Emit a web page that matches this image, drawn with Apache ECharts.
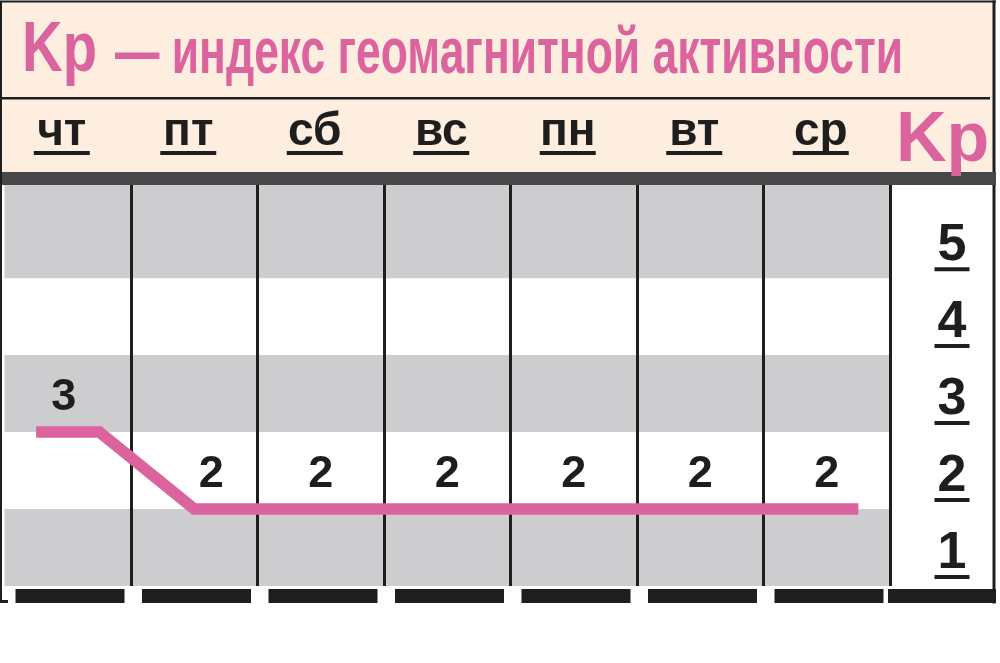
<!DOCTYPE html>
<html><head><meta charset="utf-8">
<script src="https://cdn.jsdelivr.net/npm/echarts@6/dist/echarts.min.js"></script>
<style>html,body{margin:0;padding:0;background:#fff}#c{width:1000px;height:663px}</style>
</head><body><div id="c"></div>
<script>
// ---- data ----
const days = ['чт', 'пт', 'сб', 'вс', 'пн', 'вт', 'ср'];
const kp = [3, 2, 2, 2, 2, 2, 2];
const kpTicks = [1, 2, 3, 4, 5];
const titleMain = 'Kp';
const titleRest = '— индекс геомагнитной активности';
const axisName = 'Kp';
const grayBands = [[1, 2], [3, 4], [5, 6.21]];

// ---- style ----
const PINK = '#dc649e';
const INK = '#1e1e1e';
const GRAY = '#cdcdcf';
const BEIGE = '#fdeedf';
const DARK = '#47474a';
const FAMILY = '"Liberation Sans", Arial, Helvetica, sans-serif';

function measure(text, size) {
  const c = document.createElement('canvas').getContext('2d');
  c.font = 'bold ' + size + 'px ' + FAMILY;
  return c.measureText(text).width;
}
const sxMain = 75 / measure(titleMain, 70);
const sxRest = 788 / measure(titleRest, 64);

// line points: short lead-in around first day, points at day centres, short tail
const linePts = [];
linePts.push({ value: [-0.25, kp[0]], label: { show: false } });
kp.forEach((v, i) => {
  const changed = i > 0 && v !== kp[i - 1];
  linePts.push({ value: [i, v], label: { show: true, offset: [changed ? 17 : (i === 0 ? -4 : 0), 0] } });
  if (i === 0) linePts.push({ value: [0.25, v], label: { show: false } });
});
linePts.push({ value: [kp.length - 1 + 0.25, kp[kp.length - 1]], label: { show: false } });

const chart = echarts.init(document.getElementById('c'), null, { renderer: 'canvas', width: 1000, height: 663 });

function txt(text, x, y, size, sx) {
  return {
    type: 'text', z: 10, x: x, y: y, scaleX: sx,
    style: { text: text, fontSize: size, fontWeight: 'bold', fontFamily: FAMILY, fill: PINK, align: 'left', verticalAlign: 'middle' }
  };
}

const option = {
  animation: false,
  backgroundColor: '#ffffff',
  grid: { left: 4.5, right: 110, top: 185, bottom: 77, containLabel: false },
  xAxis: [
    {
      type: 'category', data: days, position: 'top', boundaryGap: true, z: 4,
      axisLine: { show: false }, axisTick: { show: false },
      splitLine: { show: true, interval: (i) => i !== 0, lineStyle: { color: INK, width: 3 } },
      axisLabel: {
        interval: 0, margin: 30, padding: [0, 12, 0, 0],
        formatter: v => '{d|' + v + '}\n{u|}',
        rich: {
          d: { fontSize: 46, fontWeight: 'bold', color: INK, fontFamily: FAMILY, lineHeight: 37, align: 'center' },
          u: { width: 56, height: 4, backgroundColor: INK, align: 'center' }
        }
      }
    },
    {
      type: 'value', min: -0.5, max: 6.5, position: 'bottom', offset: 10,
      axisLine: { show: true, lineStyle: { color: INK, width: 14, type: [109, 17.5], dashOffset: 115.5, cap: 'butt' } },
      axisTick: { show: false }, axisLabel: { show: false }, splitLine: { show: false }
    }
  ],
  yAxis: [
    {
      type: 'value', min: 1, max: 6.21, interval: 1, position: 'right',
      axisLine: { show: false }, axisTick: { show: false }, splitLine: { show: false }, splitArea: { show: false },
      axisLabel: {
        margin: 62, align: 'center', verticalAlign: 'middle', padding: [0, 0, 60, 0],
        showMaxLabel: false,
        formatter: v => kpTicks.includes(v) ? '{n|' + v + '}\n{u|}' : '',
        rich: {
          n: { fontSize: 52, fontWeight: 'bold', color: INK, fontFamily: FAMILY, lineHeight: 42, align: 'center' },
          u: { width: 35, height: 4, backgroundColor: INK, align: 'center' }
        }
      }
    }
  ],
  series: [
    {
      type: 'custom', xAxisIndex: 1, yAxisIndex: 0, z: 0, silent: true,
      data: grayBands,
      encode: { y: [0, 1] },
      renderItem: function (params, api) {
        const cs = params.coordSys;
        const yTop = api.coord([0, api.value(1)])[1];
        const yBot = api.coord([0, api.value(0)])[1];
        return { type: 'rect', shape: { x: cs.x, y: yTop, width: cs.width, height: yBot - yTop }, style: { fill: GRAY } };
      }
    },
    {
      type: 'line', xAxisIndex: 1, yAxisIndex: 0, z: 6, data: linePts,
      symbol: 'circle', symbolSize: 0.1, itemStyle: { color: 'rgba(0,0,0,0)' },
      lineStyle: { color: PINK, width: 11.5, cap: 'butt', join: 'miter' },
      label: {
        show: false, position: 'top', distance: 12, fontSize: 45, fontWeight: 'bold', color: INK, fontFamily: FAMILY,
        formatter: p => String(p.value[1])
      }
    }
  ],
  graphic: {
    elements: [
      { type: 'rect', z: -1, shape: { x: 2, y: 2, width: 991, height: 170 }, style: { fill: BEIGE } },
      { type: 'rect', z: 10, shape: { x: 0, y: 0.5, width: 996, height: 2 }, style: { fill: INK } },
      { type: 'rect', z: 10, shape: { x: 0, y: 1, width: 2, height: 602 }, style: { fill: INK } },
      { type: 'rect', z: 10, shape: { x: 0, y: 600, width: 8, height: 3 }, style: { fill: INK } },
      { type: 'rect', z: 10, shape: { x: 992.5, y: 0.5, width: 3, height: 603 }, style: { fill: INK } },
      { type: 'rect', z: 10, shape: { x: 0, y: 97, width: 990, height: 2.5 }, style: { fill: INK } },
      { type: 'rect', z: 10, shape: { x: 2, y: 172, width: 994, height: 13 }, style: { fill: DARK } },
      { type: 'rect', z: 10, shape: { x: 888, y: 589, width: 108, height: 14 }, style: { fill: INK } },
      txt(titleMain, 22, 52, 70, sxMain),
      txt(titleRest, 115, 55, 64, sxRest),
      txt(axisName, 896, 142, 70, 1)
    ]
  }
};
chart.setOption(option);
</script>
</body></html>
